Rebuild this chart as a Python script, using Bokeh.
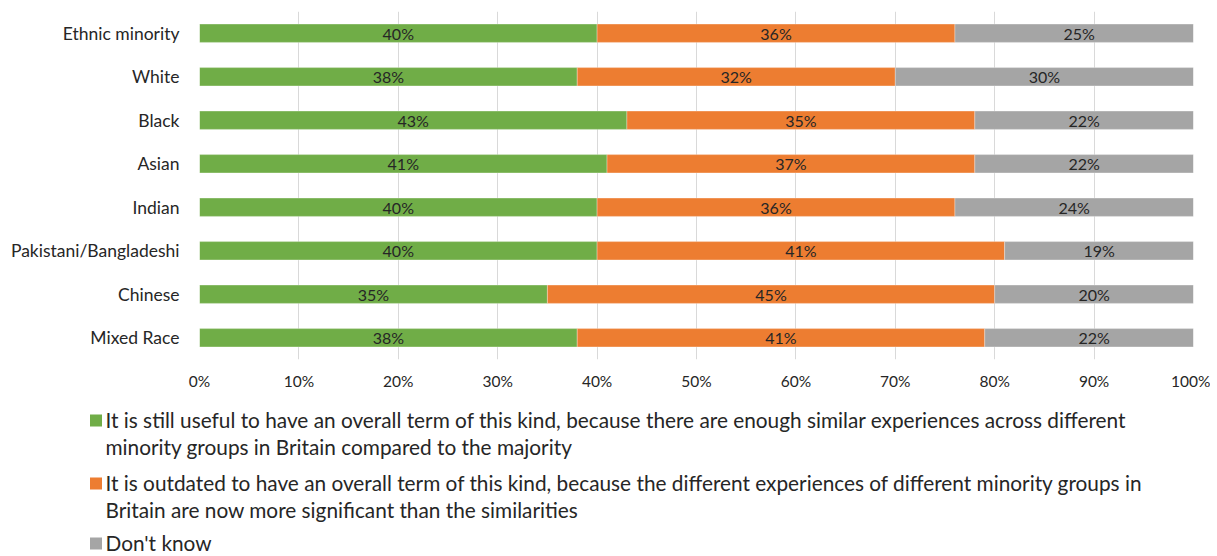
import numpy as np
from bokeh.plotting import figure
from bokeh.models import (ColumnDataSource, FactorRange, Range1d, FixedTicker,
                          PrintfTickFormatter, LabelSet)
from bokeh.core.properties import value
from bokeh.embed import file_html
from bokeh.resources import INLINE

categories = ["Ethnic minority", "White", "Black", "Asian", "Indian",
              "Pakistani/Bangladeshi", "Chinese", "Mixed Race"]
useful = [40, 38, 43, 41, 40, 40, 35, 38]
outdated = [36, 32, 35, 37, 36, 41, 45, 41]
dont_know = [25, 30, 22, 22, 24, 19, 20, 22]

series_names = [
    "It is still useful to have an overall term of this kind, because there are enough similar experiences across different\nminority groups in Britain compared to the majority",
    "It is outdated to have an overall term of this kind, because the different experiences of different minority groups in\nBritain are now more significant than the similarities",
    "Don't know",
]
colors = ["#70AD47", "#ED7D31", "#A5A5A5"]
x_ticks = list(range(0, 101, 10))

FONT = "Lato"
TXT = "#262626"

p = figure(width=1210, height=392, y_range=FactorRange(factors=categories[::-1]),
           x_range=Range1d(0, 100), output_backend="svg", toolbar_location=None,
           min_border_left=199, min_border_right=17, min_border_top=11, min_border_bottom=32)
p.outline_line_color = None

series = [useful, outdated, dont_know]
left = np.zeros(len(categories))
for vals, col in zip(series, colors):
    vals = np.array(vals, dtype=float)
    right = left + vals
    src = ColumnDataSource(dict(y=categories, left=left, right=right,
                                mid=(left + right) / 2,
                                lab=[f"{int(v)}%" for v in vals]))
    p.hbar(y="y", left="left", right="right", height=0.42, source=src,
           fill_color=col, line_color="white", line_width=0.6, line_alpha=0.5)
    p.add_layout(LabelSet(x="mid", y="y", text="lab", source=src,
                          text_align="center", text_baseline="middle",
                          text_font=value(FONT), text_font_size="16px",
                          text_color=TXT))
    left = right

p.xgrid.ticker = FixedTicker(ticks=x_ticks)
p.xgrid.grid_line_color = "#D9D9D9"
p.ygrid.grid_line_color = None

p.xaxis.ticker = FixedTicker(ticks=x_ticks)
p.xaxis.formatter = PrintfTickFormatter(format="%d%%")
for ax in (p.xaxis, p.yaxis):
    ax.axis_line_color = None
    ax.major_tick_line_color = None
    ax.minor_tick_line_color = None
    ax.major_label_text_font = FONT
    ax.major_label_text_color = TXT
p.xaxis.major_label_text_font_size = "15.5px"
p.xaxis.major_label_standoff = 6
p.yaxis.major_label_text_font_size = "17.5px"
p.yaxis.major_label_standoff = 14

# Legend drawn as its own small figure (separate root, so frames are not aligned)
leg = figure(width=1210, height=163, x_range=Range1d(0, 1210), y_range=Range1d(163, 0),
             output_backend="svg", toolbar_location=None, x_axis_type=None, y_axis_type=None,
             min_border=0)
leg.outline_line_color = None
leg.xgrid.grid_line_color = None
leg.ygrid.grid_line_color = None

line_rows = [[27, 54], [90, 117], [150]]
sq_x, sq_y, sq_c = [], [], []
tx, ty, tt = [], [], []
for name, col, rows in zip(series_names, colors, line_rows):
    sq_x.append(95.5)
    sq_y.append(rows[0] + 1)
    sq_c.append(col)
    for line, yy in zip(name.split("\n"), rows):
        tx.append(105)
        ty.append(yy)
        tt.append(line)
leg.rect(x=sq_x, y=sq_y, width=12, height=12, fill_color=sq_c, line_color=None)
leg.text(x=tx, y=ty, text=tt, text_font=value(FONT), text_font_size="20.8px",
         text_baseline="middle", text_align="left", text_color=TXT)

open("out.html", "w").write(file_html([p, leg], INLINE))
